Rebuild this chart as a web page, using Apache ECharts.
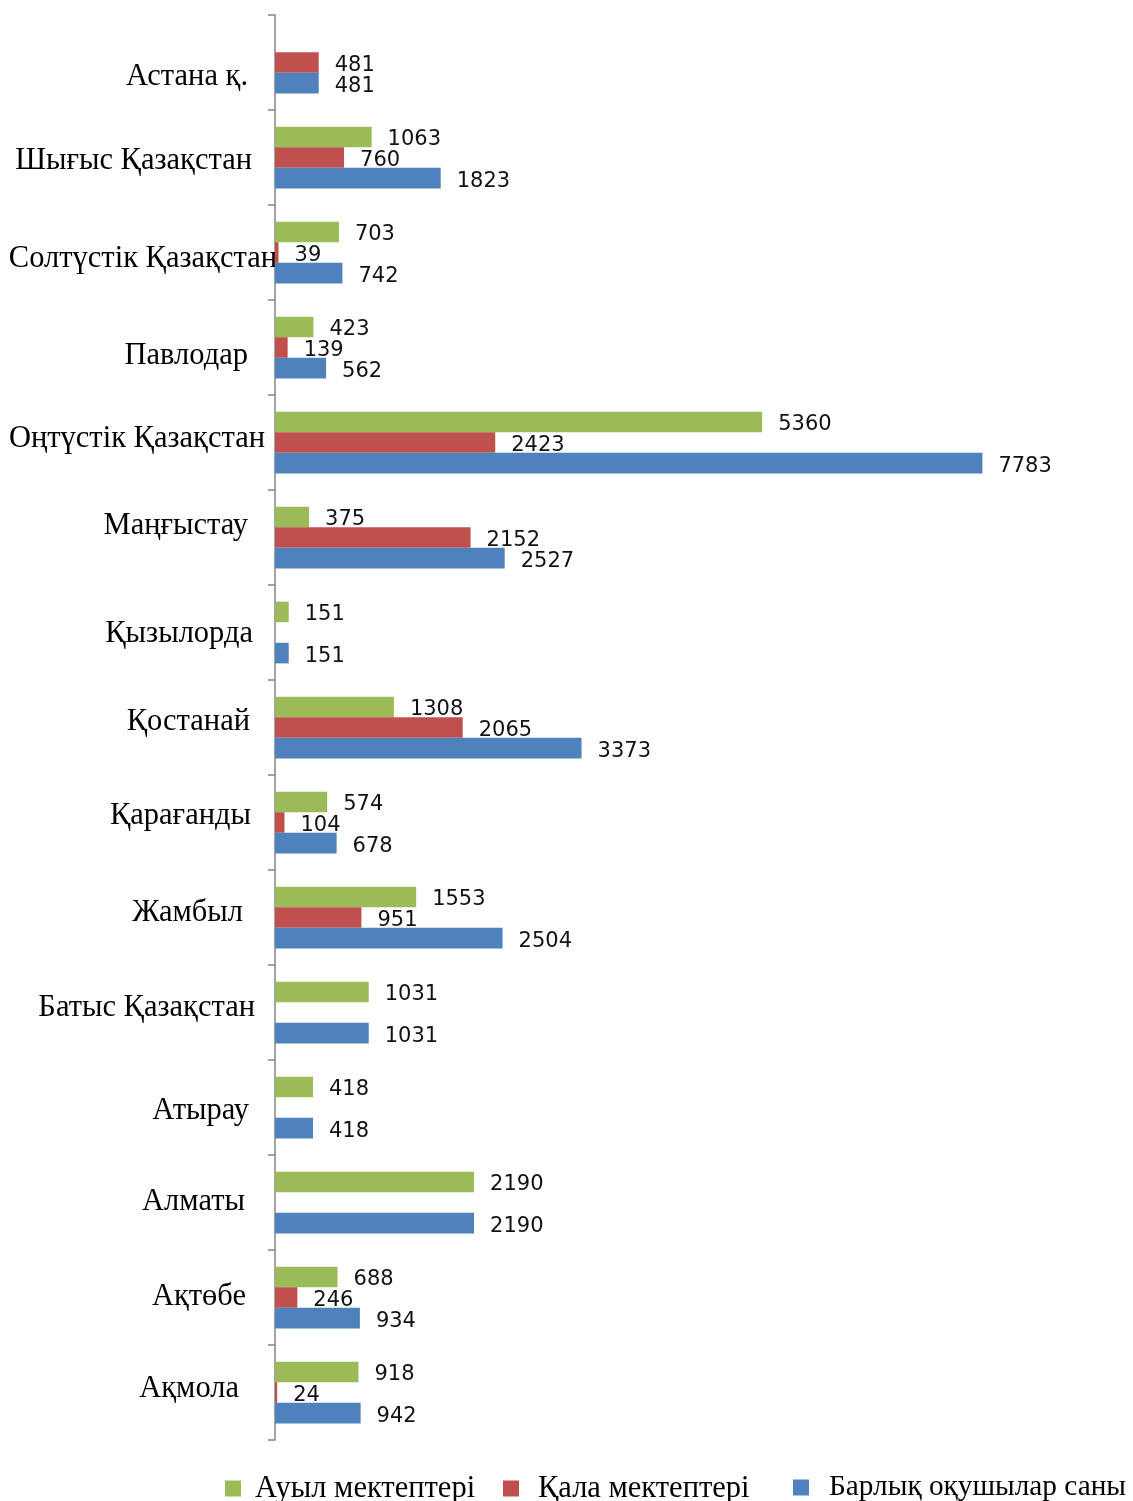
<!DOCTYPE html>
<html>
<head>
<meta charset="utf-8">
<script src="https://cdn.jsdelivr.net/npm/echarts@6/dist/echarts.min.js"></script>
<style>
html,body{margin:0;padding:0;background:#fff;}
#chart{width:1133px;height:1501px;}
</style>
</head>
<body>
<div id="chart"></div>
<script>
// Categories listed top to bottom as in the picture
const regions = ['Астана қ.', 'Шығыс Қазақстан', 'Солтүстік Қазақстан', 'Павлодар', 'Оңтүстік Қазақстан', 'Маңғыстау', 'Қызылорда', 'Қостанай', 'Қарағанды', 'Жамбыл', 'Батыс Қазақстан', 'Атырау', 'Алматы', 'Ақтөбе', 'Ақмола'];
const seriesNames = ['Ауыл мектептері', 'Қала мектептері', 'Барлық оқушылар саны'];
const ruralSchools = [null, 1063, 703, 423, 5360, 375, 151, 1308, 574, 1553, 1031, 418, 2190, 688, 918];
const urbanSchools = [481, 760, 39, 139, 2423, 2152, null, 2065, 104, 951, null, null, null, 246, 24];
const totalStudents = [481, 1823, 742, 562, 7783, 2527, 151, 3373, 678, 2504, 1031, 418, 2190, 934, 942];

// Styling only: colours and the irregular placement of names in the original
const colors = ['#9BBB59', '#C0504D', '#4F81BD'];
const nameRightEdge = [248, 252, 277, 248, 265, 248, 253, 250, 251, 243, 255, 249, 245, 246, 239];
const nameShiftY = [11, 0, 3, 5, -7, -15, -2, -9, -10, -8, -8, 0, -4, -4, -7];
const legendLeft = [220, 498, 788];
const legendTextGap = [9, 14, 15];
const legendFontSize = [30.5, 30.5, 29.3];

const AXIS_X = 275;
const CAP_OFFSET = 2.5; // rendered caps sit slightly above the anchor

const richStyles = {};
const shifts = nameShiftY.map(s => Math.round(s + CAP_OFFSET));
shifts.forEach((v, i) => {
  if (v !== 0) richStyles['sp' + i] = {lineHeight: 2 * Math.abs(v), fontSize: 1};
});

const yData = regions.map((r, i) => ({
  value: r,
  textStyle: {padding: [0, (AXIS_X + 2) - nameRightEdge[i], 0, 0]}
}));

const chart = echarts.init(document.getElementById('chart'), null, {renderer: 'canvas'});
const labelStyle = {
  show: true,
  position: 'right',
  distance: 16,
  offset: [0, 3],
  color: '#111',
  fontFamily: 'DejaVu Sans',
  fontSize: 21
};
const values = [ruralSchools, urbanSchools, totalStudents];
chart.setOption({
  animation: false,
  backgroundColor: '#fff',
  grid: {left: AXIS_X, right: 40, top: 15, bottom: 61, containLabel: false},
  legend: seriesNames.map((name, i) => ({
    data: [name],
    left: legendLeft[i],
    top: 1468,
    itemWidth: 16,
    itemHeight: 16,
    icon: 'rect',
    textStyle: {fontFamily: 'Liberation Serif', fontSize: legendFontSize[i], color: '#000', padding: [0, 0, 0, legendTextGap[i]]}
  })),
  xAxis: {
    type: 'value',
    min: 0,
    max: 9000,
    show: false
  },
  yAxis: {
    type: 'category',
    data: yData,
    inverse: true,
    axisLine: {show: true, lineStyle: {color: '#868686', width: 1.5}},
    axisTick: {show: true, length: 7, lineStyle: {color: '#868686', width: 1.5}},
    axisLabel: {
      fontFamily: 'Liberation Serif',
      fontSize: 30.5,
      color: '#000',
      margin: -2,
      formatter: (value, idx) => {
        const v = shifts[idx];
        if (v > 0) return '{sp' + idx + '| }\n' + value;
        if (v < 0) return value + '\n{sp' + idx + '| }';
        return value;
      },
      rich: richStyles
    }
  },
  series: seriesNames.map((name, i) => ({
    name: name,
    type: 'bar',
    data: values[i],
    barGap: '0%',
    barCategoryGap: '35%',
    itemStyle: {color: colors[i]},
    label: labelStyle
  }))
});
</script>
</body>
</html>
